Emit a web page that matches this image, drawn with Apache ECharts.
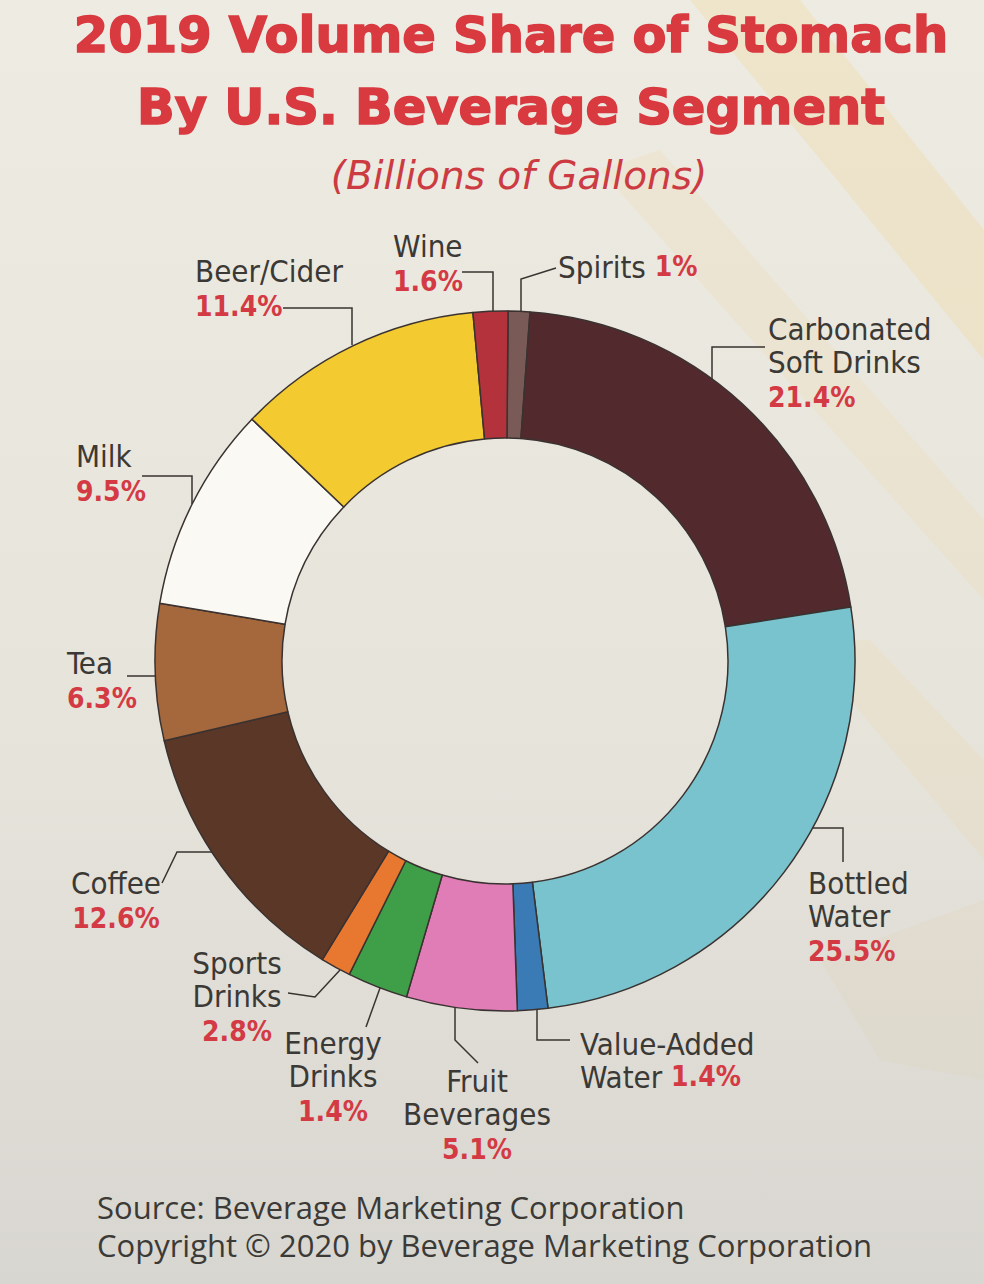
<!DOCTYPE html>
<html><head><meta charset="utf-8">
<script src="https://cdn.jsdelivr.net/npm/echarts@6/dist/echarts.min.js"></script>
<style>html,body{margin:0;padding:0;background:#e9e6de}#c{width:984px;height:1284px}</style>
</head><body><div id="c"></div>
<script>
// ---- data ----
const categories = ['Spirits','Carbonated Soft Drinks','Bottled Water','Value-Added Water','Fruit Beverages','Sports Drinks','Energy Drinks','Coffee','Tea','Milk','Beer/Cider','Wine'];
const shares = [1, 21.4, 25.5, 1.4, 5.1, 2.8, 1.4, 12.6, 6.3, 9.5, 11.4, 1.6];
const labelNames = ['Spirits','Carbonated\nSoft Drinks','Bottled\nWater','Value-Added\nWater','Fruit\nBeverages','Sports\nDrinks','Energy\nDrinks','Coffee','Tea','Milk','Beer/Cider','Wine'];
const titleLines = ['2019 Volume Share of Stomach', 'By U.S. Beverage Segment'];
const subtitle = '(Billions of Gallons)';
const footer = ['Source: Beverage Marketing Corporation', 'Copyright \u00A9 2020 by Beverage Marketing Corporation'];

// ---- styles ----
const sliceColors = ['#7a5a56','#522a2e','#79c3ce','#3a7bb6','#e07cb6','#3e9f48','#e8772f','#5b3727','#a5673c','#fbf9f3','#f3ca30','#b3323b'];
const RED = '#d43a44';
const INK = '#3b3935';
const FONT_COND = "'Liberation Sans Narrow','DejaVu Sans Condensed','Roboto Condensed','Liberation Sans',sans-serif";
const CX = 505, CY = 661, R_IN = 223, R_OUT = 350;

// label placement: [x, y, align, inline percent, leader line points]
const labelPlacement = [
  {x:558, y:250, align:'left', inline:true,  line:[[556,268],[521,279],[521,313]]},
  {x:768, y:312, align:'left', inline:false, line:[[765,347],[712,347],[712,379]]},
  {x:808, y:866, align:'left', inline:false, line:[[843,862],[843,828],[812,828]]},
  {x:580, y:1027,align:'left', inline:true,  line:[[570,1040],[537,1040],[537,1010]]},
  {x:477, y:1064,align:'center',inline:false,line:[[478,1063],[455,1040],[455,1008]]},
  {x:237, y:946, align:'center',inline:false,line:[[288,993],[315,997],[340,970]]},
  {x:333, y:1026,align:'center',inline:false,line:[[366,1027],[380,988]]},
  {x:116, y:866, align:'center',inline:false,line:[[162,883],[177,852],[212,852]]},
  {x:67,  y:646, align:'left', inline:false, line:[[127,676],[156,676]]},
  {x:76,  y:439, align:'left', inline:false, line:[[142,476],[192,476],[192,504]]},
  {x:195, y:254, align:'left', inline:false, line:[[283,308],[352,308],[352,345]]},
  {x:393, y:229, align:'left', inline:false, line:[[462,272],[493,272],[493,311]]}
];

function labelText(i){
  const pl = labelPlacement[i];
  const suffix = pl.align === 'center' ? 'c' : '';
  const lines = labelNames[i].split('\n');
  const pct = shares[i] + '%';
  if (pl.inline) {
    const last = lines.pop();
    return lines.map(l => `{n${suffix}|${l}}`).concat([`{n${suffix}|${last} }{p${suffix}|${pct}}`]).join('\n');
  }
  return lines.map(l => `{n${suffix}|${l}}`).concat([`{pp${suffix}|${pct}}`]).join('\n');
}

const nameStyle = {fontFamily: FONT_COND, fontSize: 31, color: INK, lineHeight: 33};
const pctStyle = {fontFamily: FONT_COND, fontSize: 28, fontWeight: 'bold', color: RED, lineHeight: 33};
const pctLineStyle = Object.assign({}, pctStyle, {lineHeight: 39});

const chart = echarts.init(document.getElementById('c'), null, {renderer: 'svg'});
chart.setOption({
  animation: false,
  graphic: [
    {type:'rect', z:-10, silent:true, shape:{x:0,y:0,width:984,height:1284},
     style:{fill:{type:'linear',x:0,y:0,x2:0,y2:1,colorStops:[{offset:0,color:'#eeebe2'},{offset:0.6,color:'#e6e3db'},{offset:1,color:'#d8d6d0'}]}}},
    {type:'polygon', z:-9, silent:true, shape:{points:[[690,0],[800,0],[984,230],[984,360]]}, style:{fill:'rgba(240,214,140,0.26)'}},
    {type:'polygon', z:-9, silent:true, shape:{points:[[600,170],[660,150],[984,520],[984,600]]}, style:{fill:'rgba(240,214,140,0.16)'}},
    {type:'polygon', z:-9, silent:true, shape:{points:[[800,640],[870,640],[984,760],[984,860]]}, style:{fill:'rgba(235,210,150,0.16)'}},
    {type:'polygon', z:-9, silent:true, shape:{points:[[820,960],[984,900],[984,1080],[880,1060]]}, style:{fill:'rgba(225,205,160,0.14)'}}
  ],
  title: [
    {text: titleLines.join('\n'), left: 506, textAlign:'center', top: -6,
     textStyle:{fontFamily:"'DejaVu Sans','Liberation Sans',sans-serif", fontSize:49.5, fontWeight:'bold', color:'#d83a40', lineHeight:72,
       textBorderColor:'#d83a40', textBorderWidth:1.6}},
    {text: subtitle, left: 514, textAlign:'center', top: 146,
     textStyle:{fontFamily:"'DejaVu Sans','Liberation Sans',sans-serif", fontSize:39, fontStyle:'italic', fontWeight:200, color:'#cc3a42', lineHeight:48}},
    {text: footer.join('\n'), left: 92, top: 1183,
     textStyle:{fontFamily:"'Open Sans','Noto Sans',sans-serif", fontSize:31, fontWeight:'normal', color:'#3c3a37', lineHeight:38}}
  ],
  series: [{
    type:'pie',
    center:[CX, CY], radius:[R_IN, R_OUT],
    startAngle: 89.5, clockwise: true,
    avoidLabelOverlap: false, minShowLabelAngle: 0,
    itemStyle:{borderColor:'#3a3230', borderWidth:1.5},
    label:{show:true, position:'outside', formatter: p => labelText(p.dataIndex),
      rich:{
        n: Object.assign({align:'left'}, nameStyle),
        p: Object.assign({align:'left'}, pctStyle),
        pp: Object.assign({align:'left'}, pctLineStyle),
        nc: Object.assign({align:'center'}, nameStyle),
        pc: Object.assign({align:'center'}, pctStyle),
        ppc: Object.assign({align:'center'}, pctLineStyle)
      }},
    labelLine:{show:true, smooth:false, length:10, length2:10, lineStyle:{color:'#38332f', width:1.5}},
    labelLayout: function(params){
      const pl = labelPlacement[params.dataIndex];
      return {x: pl.x, y: pl.y, align: pl.align, verticalAlign:'top', labelLinePoints: pl.line};
    },
    emphasis:{disabled:true},
    data: categories.map((c, i) => ({name: c, value: shares[i], itemStyle:{color: sliceColors[i]}}))
  }]
});
</script></body></html>
